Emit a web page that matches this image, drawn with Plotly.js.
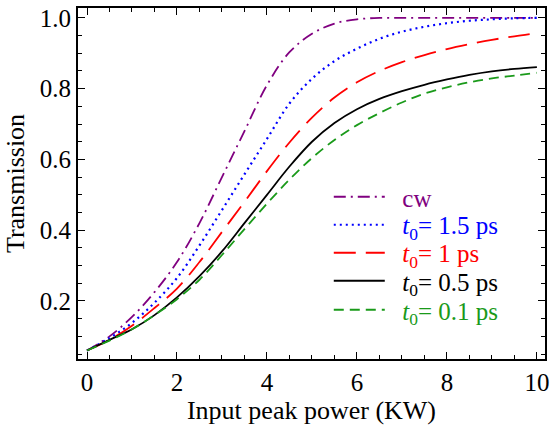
<!DOCTYPE html>
<html>
<head>
<meta charset="utf-8">
<script src="https://cdn.plot.ly/plotly-3.0.1.min.js"></script>
<style>html,body{margin:0;padding:0;background:#fff;}#chart{width:558px;height:427px;}</style>
</head>
<body>
<div id="chart"></div>
<script>
const power = [0,0.5,1,1.5,2,2.5,3,3.5,4,4.5,5,5.5,6,6.5,7,7.5,8,8.5,9,9.5,10];
const cw    = [0.06,0.10,0.155,0.225,0.31,0.42,0.55,0.68,0.81,0.903,0.955,0.984,0.996,1.0,1.0,1.0,1.0,1.0,1.0,1.0,1.0];
const t15   = [0.06,0.095,0.138,0.195,0.265,0.357,0.457,0.558,0.658,0.758,0.828,0.878,0.913,0.941,0.961,0.975,0.985,0.992,0.996,0.999,1.0];
const t1    = [0.06,0.09,0.13,0.18,0.235,0.31,0.395,0.48,0.567,0.648,0.718,0.775,0.818,0.85,0.875,0.895,0.912,0.926,0.938,0.948,0.957];
const t05   = [0.06,0.09,0.12,0.16,0.21,0.27,0.34,0.42,0.50,0.58,0.65,0.703,0.742,0.771,0.793,0.811,0.826,0.839,0.849,0.856,0.861];
const t01   = [0.06,0.088,0.12,0.16,0.205,0.26,0.33,0.403,0.475,0.543,0.604,0.655,0.697,0.731,0.761,0.786,0.804,0.818,0.829,0.837,0.845];

const names = ['cw', '<i>t</i><sub>0</sub>= 1.5 ps', '<i>t</i><sub>0</sub>= 1 ps', '<i>t</i><sub>0</sub>= 0.5 ps', '<i>t</i><sub>0</sub>= 0.1 ps'];
const colors = ['#800080', '#0000ff', '#ff0000', '#000000', '#1a9a1a'];
const dashes = ['12px,5px,2px,5px', '2px,4px', '22px,10px', 'solid', '10px,6px'];
const series = [cw, t15, t1, t05, t01];
const legendIds = ['legend', 'legend2', 'legend3', 'legend4', 'legend5'];
const legendY = [0.4615, 0.3818, 0.302, 0.2222, 0.1396];

const traces = series.map((ys, i) => ({
  x: power, y: ys, type: 'scatter', mode: 'lines',
  name: '<span style="color:' + colors[i] + '">&nbsp;&nbsp;' + names[i] + '</span>',
  legend: legendIds[i],
  line: {color: colors[i], width: i === 1 ? 2.2 : 1.8, dash: dashes[i], shape: 'spline', smoothing: 1}
}));

const fontFam = 'Liberation Serif, Times New Roman, serif';
const layout = {
  width: 558, height: 427,
  margin: {l: 78, r: 13, t: 8, b: 68},
  paper_bgcolor: '#fff', plot_bgcolor: '#fff',
  font: {family: fontFam, size: 25, color: '#000'},
  xaxis: {
    range: [-0.2, 10.18], tickvals: [0,2,4,6,8,10], ticktext: ['0','2','4','6','8','10'],
    ticks: 'inside', ticklen: 7, tickwidth: 1, tickcolor: '#000',
    tickfont: {family: fontFam, size: 25},
    minor: {dtick: 0.5, tick0: 0, ticks: 'inside', ticklen: 4, tickcolor: '#000', showgrid: false},
    showline: true, linecolor: '#000', linewidth: 2, mirror: 'ticks',
    showgrid: false, zeroline: false,
    title: {text: 'Input peak power (KW)', font: {family: fontFam, size: 26}, standoff: 6}
  },
  yaxis: {
    range: [0.036, 1.028], tickvals: [0.2,0.4,0.6,0.8,1.0], ticktext: ['0.2','0.4','0.6','0.8','1.0'],
    ticks: 'inside', ticklen: 7, tickwidth: 1, tickcolor: '#000',
    tickfont: {family: fontFam, size: 25},
    minor: {dtick: 0.05, tick0: 0, ticks: 'inside', ticklen: 4, tickcolor: '#000', showgrid: false},
    showline: true, linecolor: '#000', linewidth: 2, mirror: 'ticks',
    showgrid: false, zeroline: false,
    title: {text: 'Transmission', font: {family: fontFam, size: 26}, standoff: 8}
  },
  showlegend: true
};
legendIds.forEach((id, i) => {
  layout[id] = {
    x: 0.537, y: legendY[i], xanchor: 'left', yanchor: 'middle',
    bgcolor: 'rgba(0,0,0,0)', borderwidth: 0,
    font: {family: fontFam, size: 25},
    itemwidth: 51
  };
});
Plotly.newPlot('chart', traces, layout, {displayModeBar: false, staticPlot: true});
</script>
</body>
</html>
